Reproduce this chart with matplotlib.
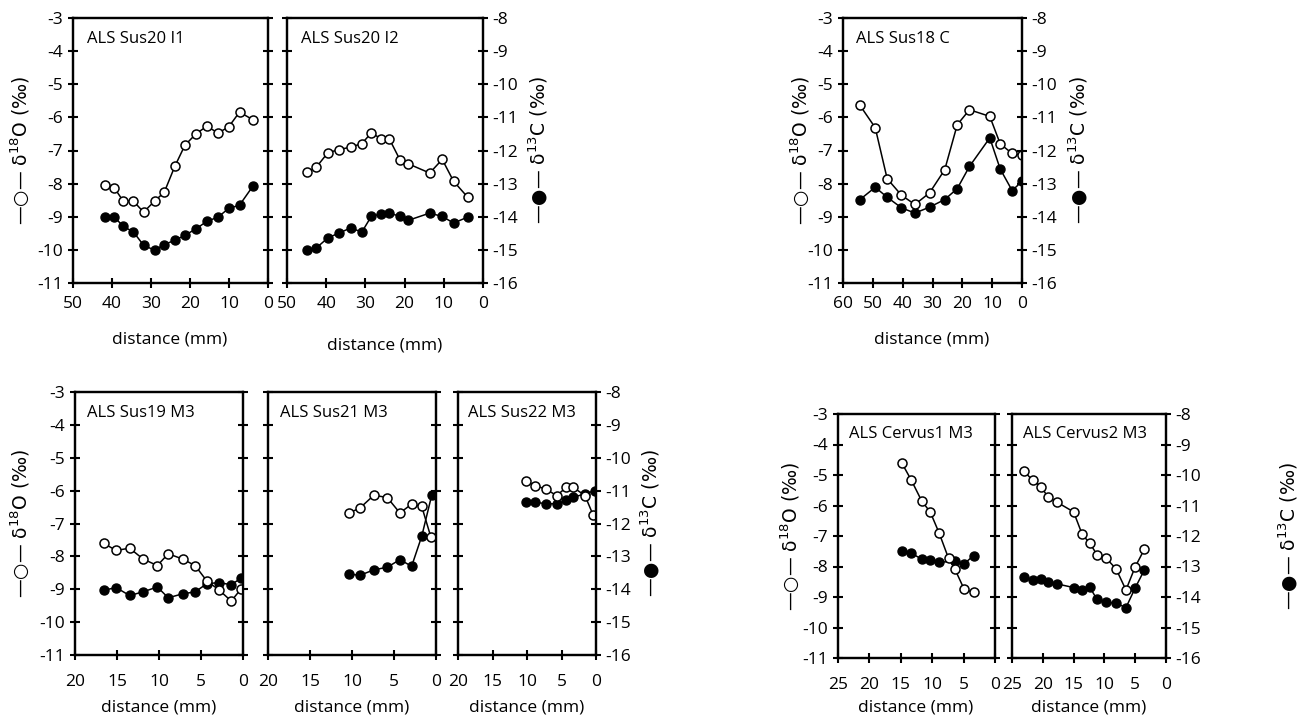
import matplotlib.pyplot as plt

plt.rcParams['font.family'] = ['Open Sans', 'DejaVu Sans']
plt.rcParams['font.size'] = 12
plt.rcParams['axes.unicode_minus'] = False

# ---- data (distance mm, d18O, d13C) ----
i1_x = [41.8, 39.4, 37.1, 34.5, 31.9, 29.1, 26.6, 23.9, 21.3, 18.4, 15.7, 12.8, 10.1, 7.3, 3.9]
i1_o = [-8.05, -8.13, -8.53, -8.53, -8.86, -8.53, -8.26, -7.48, -6.84, -6.49, -6.27, -6.47, -6.29, -5.84, -6.07]
i1_c = [-14.01, -14.01, -14.29, -14.46, -14.86, -15.01, -14.84, -14.71, -14.56, -14.36, -14.14, -14.01, -13.75, -13.65, -13.08]

i2_x = [44.9, 42.5, 39.6, 36.7, 33.8, 30.9, 28.5, 25.9, 23.9, 21.1, 19.1, 13.6, 10.4, 7.5, 3.9]
i2_o = [-7.66, -7.50, -7.07, -6.97, -6.90, -6.79, -6.47, -6.65, -6.65, -7.30, -7.40, -7.68, -7.27, -7.93, -8.41]
i2_c = [-15.01, -14.94, -14.64, -14.49, -14.34, -14.46, -13.99, -13.91, -13.89, -13.99, -14.11, -13.89, -13.99, -14.19, -14.01]

s18_x = [54.3, 49.2, 45.2, 40.4, 35.9, 31.0, 25.9, 21.7, 17.6, 10.8, 7.3, 3.3, 0.0]
s18_o = [-5.64, -6.31, -7.85, -8.35, -8.63, -8.28, -7.58, -6.22, -5.77, -5.97, -6.80, -7.09, -7.14]
s18_c = [-13.48, -13.11, -13.41, -13.73, -13.89, -13.71, -13.48, -13.15, -12.48, -11.62, -12.56, -13.21, -12.93]

s19_x = [16.6, 15.1, 13.5, 11.9, 10.2, 8.9, 7.2, 5.7, 4.3, 2.9, 1.4, 0.2]
s19_o = [-7.60, -7.82, -7.75, -8.08, -8.28, -7.92, -8.08, -8.28, -8.75, -9.01, -9.36, -8.98]
s19_c = [-14.03, -13.95, -14.19, -14.08, -13.93, -14.26, -14.14, -14.08, -13.83, -13.80, -13.86, -13.66]

s21_x = [10.4, 9.1, 7.4, 5.8, 4.3, 2.9, 1.7, 0.6]
s21_o = [-6.68, -6.54, -6.14, -6.21, -6.68, -6.41, -6.48, -7.42]
s21_cx = [10.4, 9.1, 7.4, 5.8, 4.3, 2.9, 1.7, 0.5]
s21_c = [-13.53, -13.58, -13.41, -13.33, -13.10, -13.30, -12.39, -11.13]

s22_x = [10.2, 8.8, 7.3, 5.7, 4.3, 3.3, 1.6, 0.4]
s22_o = [-5.70, -5.85, -5.95, -6.15, -5.90, -5.90, -6.15, -6.75]
s22_cx = [10.2, 8.8, 7.3, 5.7, 4.3, 3.3, 1.6, 0.2]
s22_c = [-11.35, -11.35, -11.40, -11.40, -11.30, -11.20, -11.10, -11.00]

c1_x = [14.8, 13.3, 11.7, 10.3, 8.9, 7.4, 6.4, 4.9, 3.4]
c1_o = [-4.62, -5.18, -5.84, -6.22, -6.90, -7.73, -8.08, -8.75, -8.85]
c1_cx = [14.8, 13.3, 11.7, 10.3, 8.9, 6.4, 4.9, 3.4]
c1_c = [-12.49, -12.56, -12.76, -12.79, -12.86, -12.83, -12.91, -12.64]

c2_x = [23.1, 21.6, 20.3, 19.2, 17.7, 15.0, 13.6, 12.4, 11.2, 9.7, 8.1, 6.5, 5.0, 3.5]
c2_o = [-4.87, -5.18, -5.38, -5.71, -5.89, -6.21, -6.95, -7.23, -7.61, -7.73, -8.08, -8.77, -8.01, -7.43]
c2_c = [-13.34, -13.44, -13.40, -13.50, -13.57, -13.69, -13.77, -13.67, -14.08, -14.18, -14.20, -14.35, -13.70, -13.11]

W, H = 1302, 721
fig = plt.figure(figsize=(W / 100, H / 100), dpi=100)


def panel(px0, px1, py0, py1, title, xo, o, xc, c, xmax, xstep, left, right, xpad):
    ax = fig.add_axes([px0 / W, 1 - py1 / H, (px1 - px0) / W, (py1 - py0) / H])
    ax2 = ax.twinx()
    ax.set_zorder(ax2.get_zorder() + 1)
    ax.patch.set_visible(False)
    ax.plot(xo, o, '-o', color='black', mfc='white', mec='black', ms=6.5, lw=1.1, mew=1.1)
    ax2.plot(xc, c, '-o', color='black', mfc='black', ms=6.5, lw=1.1)
    ax.set_xlim(xmax, 0)
    ax.set_xticks(range(xmax, -1, -xstep))
    ax.set_ylim(-11, -3)
    ax.set_yticks(range(-11, -2))
    ax2.set_ylim(-16, -8)
    ax2.set_yticks(range(-16, -7))
    for a in (ax, ax2):
        for s in a.spines.values():
            s.set_linewidth(1.6)
        a.tick_params(direction='inout', length=7, width=1.5, labelsize=12.5)
    ax.tick_params(axis='x', pad=xpad)
    ax.tick_params(labelleft=left)
    ax2.tick_params(labelright=right)
    ax.text(0.07, 0.95, title, transform=ax.transAxes, va='top', fontsize=12)
    return ax, ax2


def ylab(x, y, s):
    fig.text(x / W, 1 - y / H, s, rotation=90, ha='center', va='center', fontsize=13.5,
             family='DejaVu Sans')


o_lab = '—○— δ$^{18}$O (‰)'
c_lab = '—●— δ$^{13}$C (‰)'

panel(73, 268, 18, 283, 'ALS Sus20 I1', i1_x, i1_o, i1_x, i1_c, 50, 10, True, False, 6)
panel(287, 483, 18, 283, 'ALS Sus20 I2', i2_x, i2_o, i2_x, i2_c, 50, 10, False, True, 6)
panel(843, 1022, 18, 283, 'ALS Sus18 C', s18_x, s18_o, s18_x, s18_c, 60, 10, True, True, 6)

panel(75, 243, 392, 655, 'ALS Sus19 M3', s19_x, s19_o, s19_x, s19_c, 20, 5, True, False, 10)
panel(268, 436, 392, 655, 'ALS Sus21 M3', s21_x, s21_o, s21_cx, s21_c, 20, 5, False, False, 10)
panel(458, 596, 392, 655, 'ALS Sus22 M3', s22_x, s22_o, s22_cx, s22_c, 20, 5, False, True, 10)

panel(838, 995, 414, 658, 'ALS Cervus1 M3', c1_x, c1_o, c1_cx, c1_c, 25, 5, True, False, 10)
panel(1012, 1166, 414, 658, 'ALS Cervus2 M3', c2_x, c2_o, c2_x, c2_c, 25, 5, False, True, 10)

ylab(20, 150, o_lab)
ylab(538, 150, c_lab)
ylab(800, 150, o_lab)
ylab(1078, 150, c_lab)
ylab(20, 523, o_lab)
ylab(650, 523, c_lab)
ylab(790, 536, o_lab)
ylab(1288, 536, c_lab)

for x, y in [(170, 339), (385, 346), (932, 339), (159, 708), (352, 708), (527, 708),
             (916, 708), (1089, 708)]:
    fig.text(x / W, 1 - y / H, 'distance (mm)', ha='center', va='center', fontsize=12.5)

fig.savefig('out.png', dpi=100)
